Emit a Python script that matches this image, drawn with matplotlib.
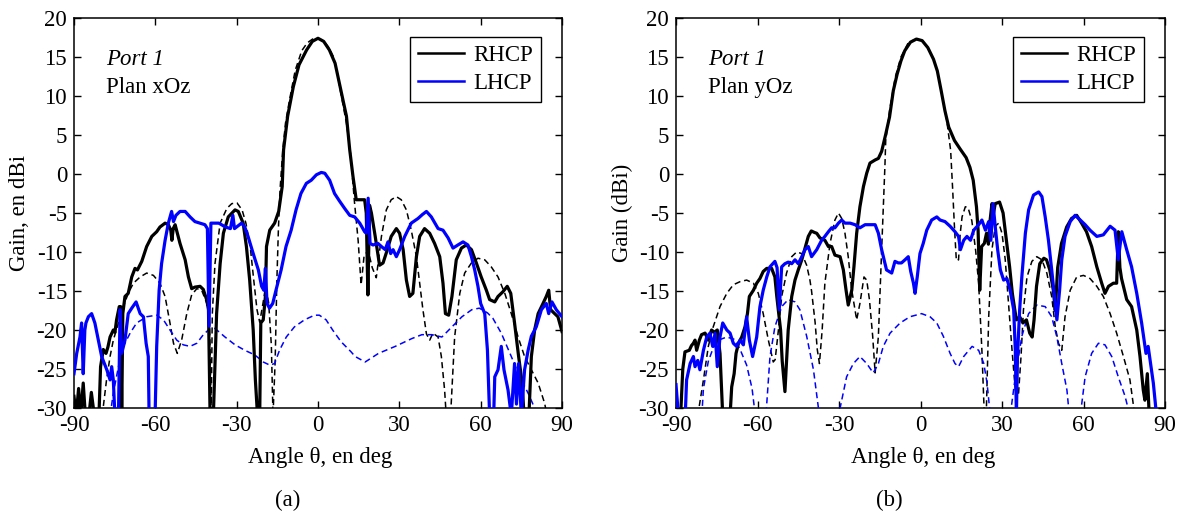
import matplotlib
matplotlib.use('Agg')
from matplotlib import pyplot as plt
from matplotlib.lines import Line2D

plt.rcParams['font.family'] = ['Liberation Serif', 'DejaVu Serif']
plt.rcParams['axes.unicode_minus'] = False

BLUE = '#0000ff'

# ---------------- panel (a) : plan xOz ----------------
a_rhcp_meas_t = [-90, -89.2, -88.3, -87.5, -86.6, -85.8, -84.5, -83.6, -82.5, -80.8, -80.2, -79.2, -78.2,
                 -77.5, -76.7, -75.5, -74.9, -74.3, -73.3, -72.8, -72.4, -72.0, -71.2, -70, -68.7, -67.5,
                 -66.6, -65, -63.2, -61.3, -59.5, -58.3, -56.4, -55.2, -54.3, -53.9, -53.4, -52.7, -50.9,
                 -49, -47.8, -46.6, -45.4, -43.5, -42.3, -41, -40.4, -39.8, -38.6, -37.4, -36.1, -34.9,
                 -33.1, -30.6, -29.4, -27.6, -26.4, -25.2, -23.9, -23.1, -22.3, -21.5, -21.1, -20.2,
                 -19.4, -19.0, -17.8, -16.0, -14.5, -13.2, -12.7, -11.2, -9.1, -7.0, -4.2, -2.1, 0, 2.1,
                 4.2, 6.3, 8.4, 10.5, 11.7, 12.9, 14.1, 15.4, 17.2, 17.8, 18.4, 19.0, 19.7, 21.1, 22.7,
                 24.0, 25.3, 27.0, 28.9, 30.1, 31.4, 32.6, 33.8, 35.0, 36.3, 37.5, 39.3, 41.2, 43.0,
                 44.9, 46.1, 47.0, 48.2, 49.4, 51.0, 52.9, 54.7, 56.6, 58.4, 60.2, 62.1, 63.3, 65.2,
                 66.4, 68.2, 69.8, 71.1, 72.5, 74.0, 75.3, 76.0, 77.8, 78.7, 79.9, 81.2, 83.0, 84.2,
                 85.1, 85.8, 87.3, 88.5, 90]
a_rhcp_meas_g = [-28.5, -31, -27.5, -31, -26.8, -31, -31, -28, -31, -31, -24.7, -22.5, -23,
                 -22.2, -20.9, -20, -20.3, -18.7, -17, -17, -31, -17.9, -15.7, -15.3, -13.2, -12.1,
                 -12.3, -11.2, -9.3, -8.0, -7.4, -6.8, -6.3, -6.5, -7.2, -8.5, -7.0, -6.5, -8.9,
                 -11, -13.2, -14.7, -14.5, -14.4, -14.8, -16.2, -17.4, -31, -31, -17.9, -11.5, -7.6,
                 -5.5, -4.6, -4.8, -6.3, -9.3, -13.6, -20, -26.4, -31, -31, -19.1, -18.7,
                 -15.7, -9.3, -7.2, -6.3, -4.8, -1.6, 3.1, 7.4, 11.2, 14.0, 15.9, 17.0, 17.4, 17.0,
                 15.9, 14.2, 10.8, 7.4, 3.1, -0.3, -3.3, -3.3, -3.3, -5, -15.5, -4.0, -5, -8, -11.7,
                 -11.4, -10, -8, -7, -7.6, -9.7, -13.6, -15.7, -15.3, -10.6, -8, -7, -7.6, -8.9,
                 -10.6, -14, -17.9, -18.1, -15.7, -11, -9.5, -9.1, -9.7, -11.4, -13.2, -14.9, -16.1, -16.4,
                 -15.7, -15.1, -14.4, -15.3, -19.1, -23.4, -26.8, -31, -31, -23.4, -20, -17.9, -16.6, -15.7,
                 -14.9, -17.4, -17.9, -18.3, -20.2]

a_lhcp_meas_t = [-90, -89, -87.8, -87.2, -86.6, -86.0, -85.6, -84.7, -83.5, -82.3, -81, -79.8, -77.9,
                 -76.7, -76.1, -75.5, -74.9, -73.6, -73.0, -72.4, -71.2, -70.0, -68.7, -67.1, -65.6,
                 -64.4, -63.4, -62.6, -62.3, -60.1, -59.5, -58.6, -57.7, -56.4, -55.2, -54.0, -53.3,
                 -52.4, -50.9, -49.0, -47.2, -45.4, -43.5, -41.7, -40.8, -40.2, -39.5, -38.6, -36.6,
                 -34.1, -32.3, -31.4, -30.8, -28.2, -27, -25.8, -23.9, -22, -20.8, -20.0, -19.4, -18.8,
                 -17.9, -16.7, -15.5, -13.6, -11.8, -9.9, -8.1, -6.3, -4.3, -2.5, -0.6, 1.2, 2.5, 4.3,
                 6.1, 8.0, 9.8, 11.7, 13.5, 15.4, 17.2, 17.8, 18.5, 19.2, 20.3, 22.1, 23.4, 24.8, 25.8,
                 26.8, 27.7, 28.9, 30.1, 32.0, 34.4, 36.9, 38.5, 40.0, 41.8, 44.3, 46.1, 48.0, 49.8,
                 51.6, 53.5, 55.3, 56.6, 57.8, 59.0, 60.0, 61.5, 62.5, 63.3, 64.8, 65.2, 66.4, 67.6,
                 68.6, 70.1, 71.3, 72.5, 73.2, 74.0, 75.0, 76.2, 77.5, 78.7, 80.5, 82.4, 84.2, 85.1,
                 86.3, 87.9, 90]
a_lhcp_meas_g = [-25.6, -23, -20.9, -19.1, -25.6, -20, -19.1, -18.3, -17.9, -19.1, -21.3, -23.4, -25.1,
                 -26.4, -24.7, -26.4, -31, -31, -17.4, -23, -21.3, -17.9, -17.2, -16.4, -17.9,
                 -18.3, -21.7, -23.4, -31, -31, -22.1, -14.9, -11.5, -8.5, -6.3, -4.8, -6.1,
                 -5.3, -4.8, -4.8, -5.5, -6.1, -6.3, -6.5, -7.0, -19.5, -6.3, -6.3, -6.3,
                 -6.8, -7, -5.3, -7, -6.3, -6.8, -8, -10.2, -12.3, -14.4, -14.9, -12.1, -16.6,
                 -17.2, -16.6, -14.9, -12.3, -9.3, -7.2, -4.6, -2.5, -1.2, -0.8, -0.1, 0.2, 0.1, -0.8,
                 -2.5, -3.5, -4.4, -5.3, -5.5, -6.3, -7.4, -7.6, -3.1, -8.9, -9.1, -8.9, -9.3, -9.7, -8.7,
                 -10.2, -9.7, -10.6, -9.7, -8.0, -6.3, -5.7, -5.2, -4.8, -5.5, -7.0, -7.2, -8.2, -9.5,
                 -9.1, -8.7, -9.1, -10.6, -12.3, -14.4, -16.6, -17.9, -22.6, -31, -31, -26, -25.1, -22.1,
                 -25.1, -27.7, -31, -24.3, -29.5, -24.3, -31, -25.1, -22.6, -20.8, -19.6, -17.4, -16.6, -17.9,
                 -16.4, -17.4, -18.3]

a_rhcp_sim_t = [-79.6, -78.0, -76.7, -75.5, -73.6, -71.8, -70.0, -68.1, -65.6, -63.2, -60.7, -58.3,
                -56.4, -54.6, -53.3, -51.9, -50.3, -48.4, -46.6, -44.7, -42.9, -41.0, -40.0, -39.4,
                -39.0, -38.0, -36.1, -33.6, -31.8, -29.9, -28.0, -26.6, -25.0, -23.7, -22.5, -21.5,
                -20.5, -19.3, -18.2, -17.2, -16.6, -15.8, -15.2, -14.6, -14.0, -13.0, -12.0, -10.5,
                -8.4, -6.0, -4.0, -2.0, 0, 2.0, 4.0, 5.6, 7.0, 8.4, 10.5, 12.0, 13.4, 14.8, 15.9, 17.0,
                18.5, 20.0, 21.5, 23.4, 25.2, 27.0, 28.9, 30.7, 32.6, 34.4, 36.3, 37.5, 38.7, 40.0,
                41.2, 42.4, 44.3, 45.5, 46.7, 47.3, 48.9, 50.4, 52.3, 54.1, 56.6, 59.0, 61.5, 63.9,
                66.4, 68.9, 71.3, 73.8, 76.2, 78.7, 81.2, 83.6, 84.5]
a_rhcp_sim_g = [-31, -26.4, -23.4, -21.3, -19.1, -17, -15.3, -14, -13.2, -12.7, -13, -14,
                -15.7, -19.1, -21.7, -23, -21.3, -17.9, -15.5, -14.7, -14.9, -16.6, -19.1, -31,
                -18, -11.5, -6.3, -4.4, -3.8, -3.7, -4.6, -6.3, -9.3, -13.6, -17.4, -19,
                -17, -14.5, -16.5, -22, -31, -24, -14, -7, -2, 3, 6.5, 9.5,
                13.3, 15.8, 16.8, 17.3, 17.4, 17.1, 16.2, 15.1, 13.2, 10.4, 6.5, 2.6, -3.4, -8.5, -14.2, -10.5,
                -9.8, -12, -13.3, -8, -4.6, -3.3, -2.9, -3.3, -4.6, -7.2, -10.6, -14, -17.4, -20.5,
                -21.3, -20.4, -20.9, -23.4, -27.7, -31, -31, -20.9, -15.3, -12.7, -11.4, -10.8, -11, -11.9,
                -13.2, -15.3, -17.9, -20.9, -23.4, -25.1, -26.8, -29.4, -31]

a_lhcp_sim_t = [-76.7, -75.5, -73.6, -71.8, -69.3, -66.9, -63.2, -59.5, -57.0, -54.6, -52.1, -49.7,
                -47.2, -44.7, -42.3, -39.8, -38.0, -34.3, -30.6, -27.0, -23.3, -20.2, -17.8, -16.0,
                -14.2, -11.7, -8.7, -5.0, -1.3, 0.5, 3.0, 5.4, 8.5, 12.2, 13.7, 17.4, 22.3, 28.5,
                34.6, 38.3, 42.0, 45.7, 49.4, 53.1, 56.7, 59.5, 62.5, 64.5, 67.6, 71.3, 74.4, 77.5,
                79.9, 80.5]
a_lhcp_sim_g = [-31, -28.1, -24.7, -22.1, -20.4, -19.1, -18.3, -18.1, -18.7, -20, -21.3, -21.9,
                -22.1, -21.7, -20.6, -19.8, -19.8, -20.9, -21.9, -22.6, -23.2, -24.1, -24.5, -24.3,
                -22.6, -20.9, -19.6, -18.7, -18.1, -18.1, -18.7, -20, -21.5, -22.8, -23.4, -24.1, -23, -22.1,
                -21.1, -20.6, -20.6, -20.9, -19.6, -18.3, -17.4, -17.2, -17.8, -18.5, -20.4, -23.4, -26, -28.1,
                -30, -31]

# ---------------- panel (b) : plan yOz ----------------
b_rhcp_meas_t = [-88.3, -87.5, -86.7, -85.1, -84.3, -83.6, -83.0, -82.4, -81.4, -80.6, -79.3, -78.1,
                 -76.9, -75.9, -74.8, -73.8, -72.8, -70.1, -69.5, -68.6, -67.9, -67.0, -65.8, -64.6,
                 -63.7, -63.0, -61.5, -60.3, -59.1, -57.9, -56.6, -54.8, -53.6, -52.9, -51.5, -50.9,
                 -49.9, -48.7, -47.4, -46.2, -45.0, -43.7, -42.5, -41.3, -40.2, -39.0, -38.2, -37.0,
                 -35.2, -33.9, -32.7, -31.5, -29.6, -28.4, -27.4, -26.6, -25.3, -24.5, -23.5, -22.3,
                 -21.0, -19.8, -18.6, -16.7, -15.5, -14.3, -12.8, -11.4, -10.0, -8.6, -7.2, -5.8, -3.7,
                 -1.5, 0.6, 2.7, 4.8, 6.2, 7.6, 9.0, 10.4, 12.5, 14.6, 16.8, 18.2, 19.4, 20.6, 21.2,
                 21.8, 22.5, 23.5, 24.3, 25.0, 25.5, 26.3, 26.9, 27.5, 29.1, 30.4, 31.6, 32.8, 33.8,
                 34.7, 35.3, 36.5, 37.7, 39.0, 40.2, 41.1, 41.8, 42.7, 43.9, 45.4, 46.4, 47.6, 48.9,
                 49.6, 50.5, 51.9, 53.8, 55.6, 57.5, 59.3, 61.1, 63.0, 64.9, 66.7, 67.9, 69.2, 71.0,
                 72.2, 72.8, 73.4, 74.0, 75.9, 77.7, 79.6, 80.8, 82.0, 82.6, 83.5, 84.2]
b_rhcp_meas_g = [-31, -25, -22.8, -22.6, -22.0, -21.7, -21.3, -22.6, -21.3, -20.6, -20.4, -21.3,
                 -20, -20.3, -20, -23, -31, -31, -27.3, -25.6, -23, -21.7, -20.9, -19.6,
                 -17.9, -15.7, -14.9, -14.0, -13.4, -12.5, -12.1, -12.1, -13.2, -15.7, -20, -24,
                 -27.9, -20, -15.7, -13.6, -12.3, -11.0, -9.5, -8.0, -7.3, -7.5, -7.6, -8.2,
                 -8.5, -9.3, -9.3, -10.4, -10.6, -12.3, -14.9, -16.8, -14.9, -11.9, -7.6, -4.2,
                 -1.6, 0.1, 1.4, 1.8, 2.0, 2.9, 5.1, 7.3, 10.7, 12.8, 14.5, 15.8, 16.9,
                 17.3, 17.1, 16.2, 14.7, 13.2, 10.7, 8.1, 6.0, 4.3, 3.2, 2.1, 0.85, -0.8, -4.2, -7.2,
                 -14.9, -9.3, -8.9, -7.6, -9, -6.3, -3.8, -5, -3.8, -3.6, -5, -8.5, -11.9, -15.3,
                 -17.4, -18.7, -18.3, -19.1, -18.7, -20.4, -20.9, -18.7, -14.4, -11.5, -10.8, -11, -12.3, -14.9,
                 -17.5, -12, -8.9, -6.8, -5.7, -5.3, -6.3, -7.4, -9.3, -11.9, -14, -15.3, -14.4, -14,
                 -14, -7.4, -12, -13.4, -16.1, -17, -20, -23.4, -27.7, -29, -25.6, -31]

b_lhcp_meas_t = [-90, -89.1, -86.6, -86.1, -84.8, -83.6, -83.0, -82.0, -81.2, -79.9, -78.7, -77.5,
                 -76.5, -75.6, -74.8, -73.8, -72.8, -71.3, -70.1, -68.9, -67.7, -66.4, -65.2, -64.0,
                 -63.0, -61.8, -60.3, -59.1, -57.9, -56.6, -55.4, -53.6, -52.8, -52.0, -51.1, -49.9,
                 -48.7, -47.4, -46.2, -45.0, -43.7, -42.5, -41.3, -40.1, -38.2, -36.4, -35.2, -33.9,
                 -32.7, -31.5, -30.2, -29.0, -27.8, -25.9, -24.1, -22.3, -20.4, -18.6, -16.7, -15.5,
                 -14.3, -12.5, -10.6, -9.4, -8.2, -7.0, -5.7, -4.5, -3.6, -2.6, -2.0, -1.2, -0.2, 1.0,
                 2.3, 4.1, 6.0, 7.2, 9.0, 10.9, 12.7, 14.0, 14.7, 15.9, 17.1, 18.4, 19.6, 21.4, 22.6,
                 23.9, 25.1, 25.9, 26.7, 27.5, 28.4, 29.4, 30.6, 31.8, 33.0, 34.3, 34.9, 35.3, 35.7,
                 36.5, 37.3, 38.6, 39.8, 41.6, 43.5, 44.7, 45.9, 47.1, 48.3, 49.6, 50.2, 51.2, 52.0,
                 53.2, 55.1, 56.9, 58.8, 60.6, 62.4, 64.9, 67.3, 69.8, 71.6, 72.8, 74.1, 75.9, 77.7,
                 79.6, 81.4, 83.0, 83.8, 84.7, 85.7, 86.9]
b_lhcp_meas_g = [-27, -31, -31, -26.4, -24.3, -23.4, -24.7, -23.9, -25.1, -22.6, -20.9, -20.4,
                 -22.1, -20.4, -24.7, -20.9, -19.1, -20.0, -20.4, -21.7, -22.1, -21.3, -21.9, -18.3,
                 -21.3, -23.4, -20.9, -17, -14.9, -13.2, -11.9, -11.2, -12, -17.4, -11.9, -11.5,
                 -11.3, -11.5, -11.0, -11.5, -10.6, -9.7, -9.3, -10.6, -9.7, -8.5, -8.0, -7.4,
                 -6.9, -6.9, -6.3, -5.9, -6.3, -6.3, -6.5, -6.9, -6.5, -6.5, -6.5, -7.6,
                 -9.7, -12.3, -12.7, -11.2, -11.4, -11.4, -11.0, -10.6, -12.5, -14.0, -15.3, -13.2, -10.2, -8.9,
                 -7.2, -5.9, -5.5, -5.9, -6.1, -6.7, -7.4, -8.0, -9.7, -8.5, -8.0, -8.5, -7.2, -6.5, -5.9,
                 -7.2, -6.1, -8.5, -3.8, -6.7, -9.7, -12.3, -13.6, -13.4, -14.9, -17.4, -22.6, -31, -23.4,
                 -17.4, -13.2, -7.6, -4.6, -2.7, -2.3, -2.9, -5.5, -8.5, -12.3, -16.6, -18.7, -14.9, -11.0,
                 -8.0, -6.1, -5.3, -5.9, -6.5, -7.2, -8.0, -7.8, -6.7, -7.2, -11.0, -7.4, -9.7, -11.9,
                 -15.3, -19.1, -23, -22.1, -24.3, -26.8, -31]

b_rhcp_sim_t = [-82, -79.9, -78.1, -76.3, -73.8, -71.3, -68.9, -66.4, -64.0, -61.5, -59.7, -57.9,
                -56.0, -54.2, -53.5, -52.3, -51.1, -49.3, -47.4, -45.6, -43.7, -41.9, -40.7, -40.1,
                -38.8, -38.0, -37.2, -36.2, -35.2, -33.3, -31.5, -30.2, -29.0, -27.8, -26.6, -25.3,
                -23.5, -22.3, -20.8, -19.8, -18.8, -17.6, -16.7, -15.5, -14.3, -13.1, -12.8, -11.4,
                -9.3, -7.2, -4.4, -1.5, 0.6, 2.7, 4.8, 6.2, 7.6, 8.5, 9.7, 11.1, 11.8, 12.5, 13.2,
                14.0, 14.6, 15.3, 16.5, 17.5, 18.9, 20.3, 21.4, 22.6, 23.5, 24.2, 25.1, 26.3, 27.5,
                28.8, 30.0, 31.2, 32.4, 33.7, 34.9, 36.1, 37.0, 37.9, 39.2, 41.0, 42.8, 44.7, 46.5,
                48.3, 49.6, 50.8, 52.0, 53.2, 55.1, 57.5, 60.0, 62.4, 64.9, 67.3, 69.8, 72.2, 74.7,
                77.1, 78.9]
b_rhcp_sim_g = [-31, -26.4, -22.1, -19.6, -17, -15.3, -14.2, -13.8, -13.6, -14, -15.3, -17.9,
                -21.3, -24.1, -23.8, -20, -15.7, -12.7, -10.6, -10.0, -10.2, -11.7, -13.6, -15,
                -19, -22.5, -24.3, -20, -14, -8.9, -5.9, -5.0, -5.7, -7.6, -10.6, -14.9,
                -18.7, -16.6, -13.2, -13.6, -16.1, -20.8, -25.5, -20.8, -9.7, 1, 4.3, 8.1,
                12.4, 15.0, 16.9, 17.3, 17.1, 16.2, 14.7, 13.2, 10.7, 9, 6.8, 3.0, -1.7, -6.8, -11.1,
                -11, -7.7, -5.5, -4.2, -4.3, -6.0, -9.8, -14, -22.6, -31, -31, -18.3, -9.7, -6.7,
                -6.3, -7.6, -11, -16.6, -22.6, -27.7, -28.1, -23.4, -17.4, -13.2, -11.2, -10.6, -11, -12.7,
                -15.7, -19.6, -21.7, -22.6, -18.3, -14.9, -13.2, -13.0, -13.4, -14.4, -15.7, -17.9, -20.4, -23.4,
                -26.4, -31]

b_lhcp_sim_t = [-80.5, -79.9, -78.1, -76.3, -74.4, -71.3, -68.5, -66.4, -64.0, -62.0, -60.8, -56.9,
                -55.4, -53.6, -51.1, -48.7, -46.2, -44.4, -41.9, -39.4, -37.2, -30.2, -27.2, -24.7,
                -22.3, -19.8, -17.4, -15.5, -13.7, -11.2, -7.5, -3.9, 0.4, 3.5, 6.0, 8.4, 10.9, 12.7,
                14.0, 15.9, 19.0, 21.4, 23.3, 24.5, 25.7, 33.0, 34.9, 37.3, 39.8, 42.8, 45.9, 48.3,
                50.2, 52.0, 53.9, 54.8, 58.8, 60.6, 63.0, 65.5, 67.9, 70.4, 72.8, 75.3, 77.1]
b_lhcp_sim_g = [-31, -27.5, -24, -22.3, -21.3, -20.9, -21.2, -22.5, -24.5, -27.5, -31, -31,
                -23.4, -19.6, -17.0, -16.1, -16.4, -17.4, -20.8, -25.1, -31, -31, -26, -24.3,
                -23.4, -24.3, -25.5, -24.3, -22.1, -20.4, -19.1, -18.3, -17.9, -18.3, -19.1, -20.8, -23.0, -24.3,
                -24.7, -23.4, -22.1, -22.6, -24.3, -26.8, -31, -31, -26, -20.8, -17.9, -16.8, -17.0, -18.3,
                -20.9, -24.3, -27.7, -31, -31, -26, -23, -21.7, -21.9, -23.4, -26, -28.5, -31]

x_ticks = [-90, -60, -30, 0, 30, 60, 90]
y_ticks = [-30, -25, -20, -15, -10, -5, 0, 5, 10, 15, 20]
FS = 16.5


def draw_panel(ax, meas_r, meas_l, sim_r, sim_l, ylabel, plan, ylab_x):
    ax.plot(sim_r[0], sim_r[1], color='k', lw=1.1, dashes=(4, 2.5), zorder=3)
    ax.plot(sim_l[0], sim_l[1], color=BLUE, lw=1.1, dashes=(4, 2.5), zorder=3)
    ax.plot(meas_r[0], meas_r[1], color='k', lw=2.3, zorder=4)
    ax.plot(meas_l[0], meas_l[1], color=BLUE, lw=2.3, zorder=5)

    ax.set_xlim(-90, 90)
    ax.set_ylim(-30, 20)
    ax.set_xticks(x_ticks)
    ax.set_yticks(y_ticks)
    ax.tick_params(direction='in', top=True, right=True, length=5, width=1,
                   labelsize=FS, pad=5)
    for s in ax.spines.values():
        s.set_linewidth(1.1)

    ax.set_xlabel('Angle \u03b8, en deg', fontsize=FS)
    ax.xaxis.set_label_coords(0.505, -0.1)
    ax.set_ylabel(ylabel, fontsize=FS)
    ax.yaxis.set_label_coords(ylab_x, 0.5)

    ax.text(-78.2, 14.7, 'Port 1', style='italic', fontsize=FS, ha='left', va='center')
    ax.text(-78.2, 11.1, plan, fontsize=FS, ha='left', va='center')

    handles = [Line2D([], [], color='k', lw=1.8), Line2D([], [], color=BLUE, lw=1.8)]
    leg = ax.legend(handles, ['RHCP', 'LHCP'], loc='upper right', bbox_to_anchor=(0.957, 0.951),
                    fontsize=FS, fancybox=False, framealpha=1, edgecolor='k', borderaxespad=0,
                    handlelength=2.0, handletextpad=0.4, labelspacing=0.3, borderpad=0.35)
    leg.get_frame().set_linewidth(1.0)


fig = plt.figure(figsize=(11.91, 5.13), dpi=100)
ax1 = fig.add_axes([74 / 1191, 105 / 513, 488 / 1191, 390 / 513])
ax2 = fig.add_axes([676 / 1191, 105 / 513, 489 / 1191, 390 / 513])

draw_panel(ax1, (a_rhcp_meas_t, a_rhcp_meas_g), (a_lhcp_meas_t, a_lhcp_meas_g),
           (a_rhcp_sim_t, a_rhcp_sim_g), (a_lhcp_sim_t, a_lhcp_sim_g),
           'Gain, en dBi', 'Plan xOz', -0.09)
draw_panel(ax2, (b_rhcp_meas_t, b_rhcp_meas_g), (b_lhcp_meas_t, b_lhcp_meas_g),
           (b_rhcp_sim_t, b_rhcp_sim_g), (b_lhcp_sim_t, b_lhcp_sim_g),
           'Gain (dBi)', 'Plan yOz', -0.088)

fig.text(288 / 1191, 1 - 500 / 513, '(a)', fontsize=FS, ha='center', va='center')
fig.text(889 / 1191, 1 - 500 / 513, '(b)', fontsize=FS, ha='center', va='center')

fig.savefig('out.png', dpi=100)
